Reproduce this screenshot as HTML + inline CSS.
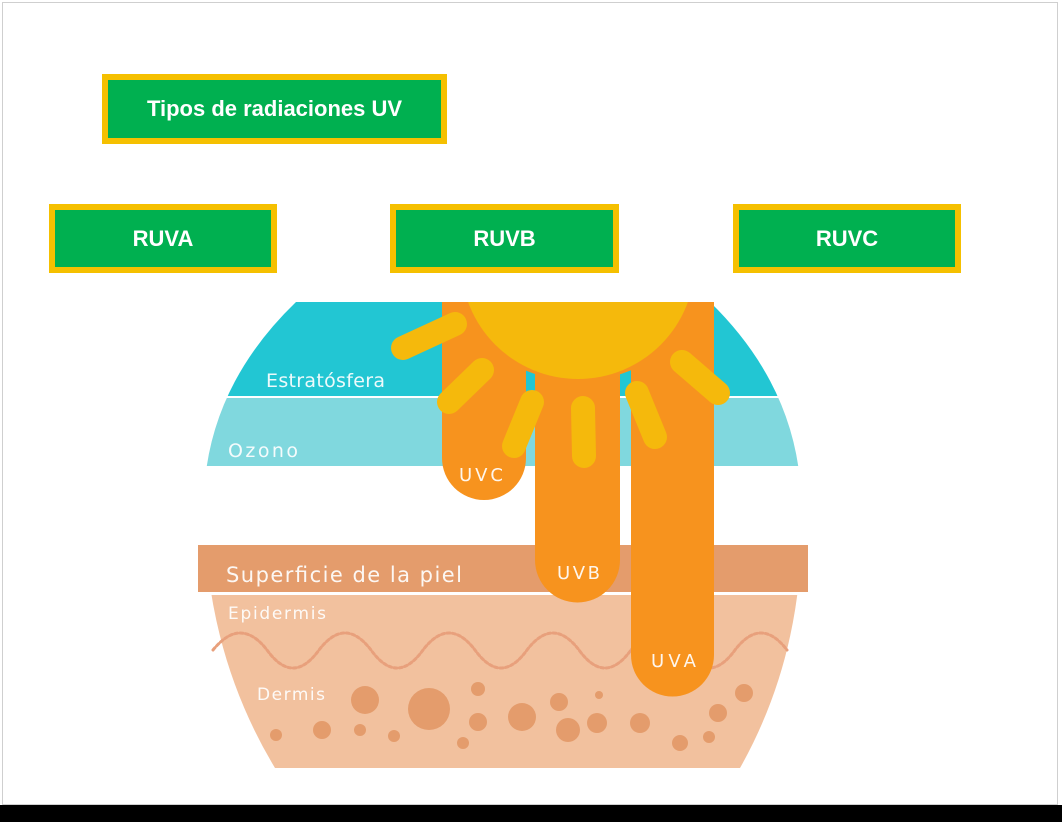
<!DOCTYPE html>
<html><head><meta charset="utf-8"><style>
html,body{margin:0;padding:0;background:#fff;}
body{width:1062px;height:822px;position:relative;overflow:hidden;font-family:"Liberation Sans",sans-serif;}
.frame{position:absolute;left:2px;top:2px;width:1056px;height:803px;border:1px solid #cfcfcf;box-sizing:border-box;}
.bar{position:absolute;left:0;top:805px;width:1062px;height:17px;background:#000;}
.box{position:absolute;background:#00b050;border:6px solid #f5c000;box-sizing:border-box;color:#fff;font-weight:bold;font-size:22px;display:flex;align-items:center;justify-content:center;}
</style></head><body>
<div class="frame"></div>
<div class="box" style="left:102px;top:74px;width:345px;height:70px;">Tipos de radiaciones UV</div>
<div class="box" style="left:49px;top:204px;width:228px;height:69px;">RUVA</div>
<div class="box" style="left:390px;top:204px;width:229px;height:69px;">RUVB</div>
<div class="box" style="left:733px;top:204px;width:228px;height:69px;">RUVC</div>
<svg width="1062" height="822" style="position:absolute;left:0;top:0">
<defs>
<clipPath id="c"><path d="M296,302 L710,302 Q790,380 800,480 Q812,640 740,768 L275,768 Q198,640 205,480 Q215,380 296,302 Z"/></clipPath>
<clipPath id="t"><rect x="0" y="302" width="1062" height="520"/></clipPath>
</defs>
<g clip-path="url(#c)">
<rect x="180" y="302" width="650" height="94" fill="#22c6d3"/>
<rect x="180" y="398" width="650" height="68" fill="#80d8de"/>
<rect x="180" y="595" width="650" height="180" fill="#f2c19e"/>
</g>
<rect x="198" y="545" width="610" height="47" fill="#e49c6c"/>
<path d="M213,650 Q227,633 240,633 Q254,633 267,650 Q280,668 293,668 Q306,668 319,650 Q332,633 345,633 Q358,633 371,650 Q384,668 397,668 Q410,668 423,650 Q436,633 449,633 Q462,633 475,650 Q488,668 501,668 Q514,668 527,650 Q540,633 553,633 Q566,633 579,650 Q592,668 605,668 Q618,668 631,650 Q644,633 657,633 Q670,633 683,650 Q696,668 709,668 Q722,668 735,650 Q748,633 761,633 Q774,633 787,650" fill="none" stroke="#e8a07c" stroke-width="3" stroke-dasharray="3 2.5" stroke-linecap="round"/>
<g fill="#e49c6c">
<circle cx="276" cy="735" r="6"/><circle cx="322" cy="730" r="9"/><circle cx="360" cy="730" r="6"/><circle cx="394" cy="736" r="6"/>
<circle cx="365" cy="700" r="14"/><circle cx="429" cy="709" r="21"/><circle cx="478" cy="689" r="7"/><circle cx="478" cy="722" r="9"/><circle cx="463" cy="743" r="6"/>
<circle cx="522" cy="717" r="14"/><circle cx="559" cy="702" r="9"/><circle cx="568" cy="730" r="12"/><circle cx="597" cy="723" r="10"/><circle cx="599" cy="695" r="4"/>
<circle cx="640" cy="723" r="10"/><circle cx="680" cy="743" r="8"/><circle cx="718" cy="713" r="9"/><circle cx="709" cy="737" r="6"/><circle cx="744" cy="693" r="9"/>
</g>
<g clip-path="url(#t)">
<circle cx="578" cy="245" r="136" fill="#f7931e"/>
<path d="M442,302 H526 V458 A42,42 0 0 1 442,458 Z" fill="#f7931e"/>
<path d="M535,302 H620 V560 A42.5,42.5 0 0 1 535,560 Z" fill="#f7931e"/>
<path d="M631,302 H714 V655 A41.5,41.5 0 0 1 631,655 Z" fill="#f7931e"/>
<circle cx="578" cy="262" r="117" fill="#f5b90c"/>
<g stroke="#f5b90c" stroke-width="24" stroke-linecap="round">
<line x1="403" y1="348" x2="455" y2="324"/>
<line x1="449" y1="402" x2="482" y2="370"/>
<line x1="514" y1="446" x2="532" y2="402"/>
<line x1="584" y1="456" x2="583" y2="408"/>
<line x1="655" y1="437" x2="637" y2="393"/>
<line x1="718" y1="393" x2="682" y2="362"/>
</g>
</g>
<g fill="#fff" font-family="'DejaVu Sans','Liberation Sans',sans-serif" opacity="0.92">
<text x="266" y="387" font-size="19" textLength="119">Estratósfera</text>
<text x="228" y="457" font-size="19" textLength="70">Ozono</text>
<text x="226" y="582" font-size="21" textLength="236">Superficie de la piel</text>
<text x="228" y="619" font-size="17" textLength="98">Epidermis</text>
<text x="257" y="700" font-size="17" textLength="68">Dermis</text>
<text x="459" y="481" font-size="18" textLength="44">UVC</text>
<text x="557" y="579" font-size="18" textLength="43">UVB</text>
<text x="651" y="667" font-size="18" textLength="45">UVA</text>
</g>
</svg>
<div class="bar"></div>
</body></html>
